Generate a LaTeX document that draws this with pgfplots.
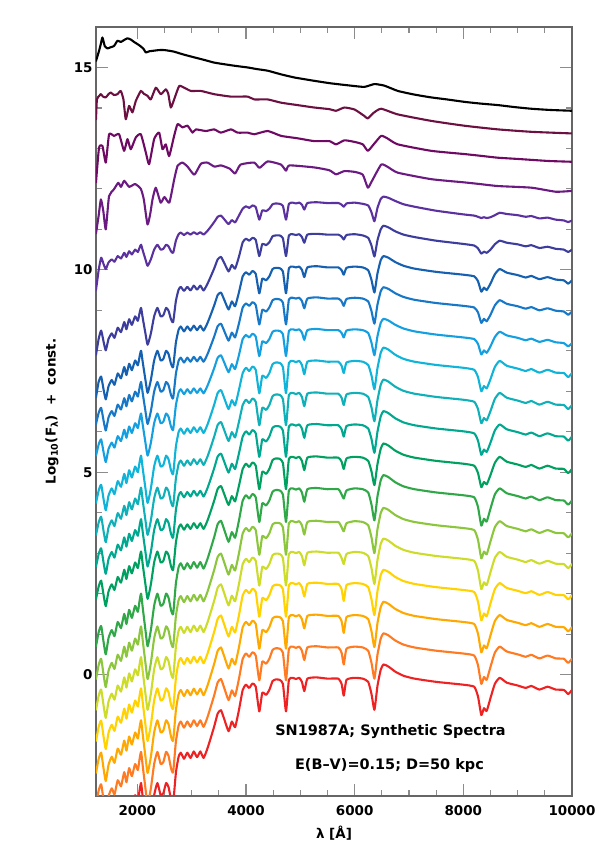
\documentclass[border=0pt]{standalone}
\usepackage{fontspec}
\setmainfont{DejaVu Sans}
\usepackage{pgfplots}
\usepackage{pgfplotstable}
\pgfplotsset{compat=1.18}

\definecolor{s0}{RGB}{0,0,0}
\definecolor{s1}{RGB}{107,16,64}
\definecolor{s2}{RGB}{110,10,100}
\definecolor{s3}{RGB}{106,26,128}
\definecolor{s4}{RGB}{91,49,160}
\definecolor{s5}{RGB}{61,61,158}
\definecolor{s6}{RGB}{21,96,176}
\definecolor{s7}{RGB}{24,120,200}
\definecolor{s8}{RGB}{20,160,224}
\definecolor{s9}{RGB}{16,180,216}
\definecolor{s10}{RGB}{16,176,184}
\definecolor{s11}{RGB}{0,168,144}
\definecolor{s12}{RGB}{0,160,96}
\definecolor{s13}{RGB}{48,168,72}
\definecolor{s14}{RGB}{140,198,60}
\definecolor{s15}{RGB}{204,220,40}
\definecolor{s16}{RGB}{255,210,0}
\definecolor{s17}{RGB}{255,168,0}
\definecolor{s18}{RGB}{255,122,32}
\definecolor{s19}{RGB}{238,34,34}

\pgfplotstableread{
x c4 c5 c6 c7 c8 c9 c10 c11 c12 c13 c14 c15 c16 c17 c18 c19
1240 9.50 7.90 6.85 6.19 5.41 4.24 3.45 2.67 1.87 0.70 -0.11 -0.87 -1.64 -2.43 -3.21 -3.98
1290 10.00 8.30 7.24 6.47 5.69 4.55 3.76 2.98 2.18 1.05 0.24 -0.52 -1.29 -2.08 -2.86 -3.63
1335 10.30 8.50 7.36 6.59 5.81 4.69 3.90 3.12 2.32 1.20 0.39 -0.37 -1.14 -1.93 -2.71 -3.48
1380 10.14 8.22 7.04 6.27 5.49 4.33 3.54 2.76 1.96 0.80 -0.01 -0.77 -1.54 -2.33 -3.11 -3.88
1420 10.02 8.01 6.80 6.03 5.25 4.06 3.27 2.49 1.69 0.50 -0.31 -1.07 -1.84 -2.63 -3.41 -4.18
1470 10.18 8.29 7.12 6.35 5.57 4.42 3.63 2.85 2.05 0.90 0.09 -0.67 -1.44 -2.23 -3.01 -3.78
1530 10.26 8.43 7.28 6.51 5.73 4.60 3.81 3.03 2.23 1.10 0.29 -0.47 -1.24 -2.03 -2.81 -3.58
1580 10.20 8.32 7.16 6.39 5.61 4.46 3.67 2.89 2.09 0.95 0.14 -0.62 -1.39 -2.18 -2.96 -3.73
1640 10.34 8.57 7.44 6.67 5.89 4.78 3.99 3.21 2.41 1.30 0.49 -0.27 -1.04 -1.83 -2.61 -3.38
1700 10.28 8.46 7.32 6.55 5.77 4.64 3.85 3.07 2.27 1.15 0.34 -0.42 -1.19 -1.98 -2.76 -3.53
1760 10.42 8.71 7.60 6.83 6.05 4.96 4.17 3.39 2.59 1.50 0.69 -0.07 -0.84 -1.63 -2.41 -3.18
1800 10.32 8.53 7.40 6.63 5.85 4.73 3.94 3.16 2.36 1.25 0.44 -0.32 -1.09 -1.88 -2.66 -3.43
1850 10.46 8.78 7.68 6.91 6.13 5.05 4.26 3.48 2.68 1.60 0.79 0.03 -0.74 -1.53 -2.31 -3.08
1900 10.38 8.64 7.52 6.75 5.97 4.87 4.08 3.30 2.50 1.40 0.59 -0.17 -0.94 -1.73 -2.51 -3.28
1960 10.50 8.85 7.76 6.99 6.21 5.14 4.35 3.57 2.77 1.70 0.89 0.13 -0.64 -1.43 -2.21 -2.98
2010 10.44 8.74 7.64 6.87 6.09 5.00 4.21 3.43 2.63 1.55 0.74 -0.02 -0.79 -1.58 -2.36 -3.13
2045 10.56 8.95 7.88 7.11 6.33 5.27 4.48 3.70 2.90 1.85 1.04 0.28 -0.49 -1.28 -2.06 -2.83
2070 10.62 9.06 8.00 7.23 6.45 5.41 4.62 3.84 3.04 2.00 1.19 0.43 -0.34 -1.13 -1.91 -2.68
2100 10.48 8.81 7.72 6.95 6.17 5.09 4.30 3.52 2.72 1.65 0.84 0.08 -0.69 -1.48 -2.26 -3.03
2150 10.26 8.43 7.28 6.51 5.73 4.60 3.81 3.03 2.23 1.10 0.29 -0.47 -1.24 -2.03 -2.81 -3.58
2190 10.10 8.15 6.96 6.19 5.41 4.24 3.45 2.67 1.87 0.70 -0.11 -0.87 -1.64 -2.43 -3.21 -3.98
2250 10.26 8.43 7.28 6.51 5.73 4.60 3.81 3.03 2.23 1.10 0.29 -0.47 -1.24 -2.03 -2.81 -3.58
2310 10.50 8.85 7.76 6.99 6.21 5.14 4.35 3.57 2.77 1.70 0.89 0.13 -0.64 -1.43 -2.21 -2.98
2370 10.62 9.06 8.00 7.23 6.45 5.41 4.62 3.84 3.04 2.00 1.19 0.43 -0.34 -1.13 -1.91 -2.68
2430 10.50 8.85 7.76 6.99 6.21 5.14 4.35 3.57 2.77 1.70 0.89 0.13 -0.64 -1.43 -2.21 -2.98
2480 10.52 8.88 7.80 7.03 6.25 5.18 4.39 3.61 2.81 1.75 0.94 0.18 -0.59 -1.38 -2.16 -2.93
2530 10.62 9.06 8.00 7.23 6.45 5.41 4.62 3.84 3.04 2.00 1.19 0.43 -0.34 -1.13 -1.91 -2.68
2575 10.58 8.99 7.92 7.15 6.37 5.32 4.53 3.75 2.95 1.90 1.09 0.33 -0.44 -1.23 -2.01 -2.78
2620 10.46 8.78 7.68 6.91 6.13 5.05 4.26 3.48 2.68 1.60 0.79 0.03 -0.74 -1.53 -2.31 -3.08
2660 10.42 8.71 7.60 6.83 6.05 4.96 4.17 3.39 2.59 1.50 0.69 -0.07 -0.84 -1.63 -2.41 -3.18
2710 10.72 9.23 8.20 7.43 6.65 5.63 4.84 4.06 3.26 2.25 1.44 0.68 -0.09 -0.88 -1.66 -2.43
2760 10.88 9.51 8.52 7.75 6.97 5.99 5.20 4.42 3.62 2.65 1.84 1.08 0.31 -0.48 -1.26 -2.03
2800 10.92 9.58 8.60 7.83 7.05 6.08 5.29 4.51 3.71 2.75 1.94 1.18 0.41 -0.38 -1.16 -1.93
2860 10.86 9.48 8.48 7.71 6.93 5.95 5.16 4.38 3.58 2.60 1.79 1.03 0.26 -0.53 -1.31 -2.08
2920 10.92 9.58 8.60 7.83 7.05 6.08 5.29 4.51 3.71 2.75 1.94 1.18 0.41 -0.38 -1.16 -1.93
2980 10.87 9.49 8.50 7.73 6.95 5.97 5.18 4.40 3.60 2.62 1.81 1.05 0.28 -0.51 -1.29 -2.06
3040 10.93 9.61 8.62 7.85 7.07 6.11 5.32 4.54 3.74 2.78 1.97 1.21 0.44 -0.35 -1.13 -1.90
3100 10.88 9.51 8.51 7.74 6.96 5.99 5.20 4.42 3.62 2.64 1.83 1.07 0.30 -0.49 -1.27 -2.04
3160 10.93 9.61 8.62 7.85 7.07 6.11 5.32 4.54 3.74 2.78 1.97 1.21 0.44 -0.35 -1.13 -1.90
3220 10.87 9.49 8.50 7.73 6.95 5.97 5.18 4.40 3.60 2.62 1.81 1.05 0.28 -0.51 -1.29 -2.06
3290 10.96 9.65 8.68 7.91 7.13 6.17 5.38 4.60 3.80 2.85 2.04 1.28 0.51 -0.28 -1.06 -1.83
3360 11.08 9.86 8.92 8.15 7.37 6.44 5.65 4.87 4.07 3.15 2.34 1.58 0.81 0.02 -0.76 -1.53
3420 11.19 10.05 9.14 8.37 7.59 6.69 5.90 5.12 4.32 3.42 2.61 1.85 1.08 0.29 -0.49 -1.26
3480 11.31 10.26 9.38 8.61 7.83 6.96 6.17 5.39 4.59 3.72 2.91 2.15 1.38 0.59 -0.19 -0.96
3540 11.34 10.32 9.44 8.67 7.89 7.03 6.24 5.46 4.66 3.80 2.99 2.23 1.46 0.67 -0.11 -0.88
3600 11.25 10.17 9.26 8.49 7.71 6.83 6.04 5.26 4.46 3.58 2.77 2.01 1.24 0.45 -0.33 -1.10
3680 11.13 9.96 9.02 8.25 7.47 6.56 5.77 4.99 4.19 3.28 2.47 1.71 0.94 0.15 -0.63 -1.40
3740 11.23 10.12 9.22 8.45 7.67 6.78 5.99 5.21 4.41 3.52 2.71 1.95 1.18 0.39 -0.39 -1.16
3800 11.17 10.03 9.10 8.33 7.55 6.65 5.86 5.08 4.28 3.38 2.57 1.81 1.04 0.25 -0.53 -1.30
3870 11.34 10.32 9.44 8.67 7.89 7.03 6.24 5.46 4.66 3.80 2.99 2.23 1.46 0.67 -0.11 -0.88
3940 11.51 10.68 9.84 9.07 8.29 7.45 6.66 5.88 5.08 4.30 3.49 2.73 1.96 1.17 0.39 -0.38
4000 11.57 10.77 9.94 9.17 8.39 7.58 6.79 6.01 5.21 4.43 3.62 2.86 2.09 1.30 0.52 -0.25
4060 11.53 10.72 9.88 9.11 8.33 7.50 6.71 5.93 5.13 4.35 3.54 2.78 2.01 1.22 0.44 -0.33
4120 11.59 10.79 9.97 9.20 8.42 7.61 6.82 6.04 5.24 4.46 3.65 2.89 2.12 1.33 0.55 -0.22
4180 11.55 10.74 9.90 9.13 8.35 7.53 6.74 5.96 5.16 4.38 3.57 2.81 2.04 1.25 0.47 -0.30
4245 11.24 10.34 9.42 8.65 7.87 6.95 6.16 5.38 4.58 3.77 2.96 2.20 1.43 0.64 -0.14 -0.91
4300 11.47 10.64 9.78 9.01 8.23 7.38 6.59 5.81 5.01 4.23 3.42 2.66 1.89 1.10 0.32 -0.45
4370 11.45 10.61 9.74 8.97 8.19 7.33 6.54 5.76 4.96 4.18 3.37 2.61 1.84 1.05 0.27 -0.50
4430 11.51 10.68 9.84 9.07 8.29 7.45 6.66 5.88 5.08 4.30 3.49 2.73 1.96 1.17 0.39 -0.38
4490 11.62 10.83 10.02 9.25 8.47 7.67 6.88 6.10 5.30 4.52 3.71 2.95 2.18 1.39 0.61 -0.16
4550 11.64 10.85 10.05 9.28 8.50 7.71 6.92 6.14 5.34 4.56 3.75 2.99 2.22 1.43 0.65 -0.12
4620 11.63 10.85 10.04 9.27 8.49 7.70 6.91 6.13 5.33 4.55 3.74 2.98 2.21 1.42 0.64 -0.13
4680 11.58 10.78 9.96 9.19 8.41 7.60 6.81 6.03 5.23 4.45 3.64 2.88 2.11 1.32 0.54 -0.23
4737 11.24 10.34 9.42 8.65 7.87 6.95 6.16 5.38 4.58 3.77 2.96 2.20 1.43 0.64 -0.14 -0.91
4790 11.63 10.85 10.04 9.27 8.49 7.70 6.91 6.13 5.33 4.55 3.74 2.98 2.21 1.42 0.64 -0.13
4860 11.66 10.88 10.08 9.31 8.53 7.75 6.96 6.18 5.38 4.60 3.79 3.03 2.26 1.47 0.69 -0.08
4920 11.64 10.86 10.06 9.29 8.51 7.72 6.93 6.15 5.35 4.57 3.76 3.00 2.23 1.44 0.66 -0.11
4980 11.66 10.88 10.08 9.31 8.53 7.75 6.96 6.18 5.38 4.60 3.79 3.03 2.26 1.47 0.69 -0.08
5030 11.61 10.81 10.00 9.23 8.45 7.65 6.86 6.08 5.28 4.50 3.69 2.93 2.16 1.37 0.59 -0.18
5074 11.49 10.67 9.82 9.05 8.27 7.42 6.63 5.85 5.05 4.27 3.46 2.70 1.93 1.14 0.36 -0.41
5130 11.65 10.87 10.06 9.29 8.51 7.73 6.94 6.16 5.36 4.58 3.77 3.01 2.24 1.45 0.67 -0.10
5300 11.67 10.89 10.09 9.32 8.54 7.76 6.97 6.19 5.39 4.61 3.80 3.04 2.27 1.48 0.70 -0.07
5500 11.65 10.87 10.06 9.29 8.51 7.73 6.94 6.16 5.36 4.58 3.77 3.01 2.24 1.45 0.67 -0.10
5700 11.65 10.87 10.06 9.29 8.51 7.73 6.94 6.16 5.36 4.58 3.77 3.01 2.24 1.45 0.67 -0.10
5760 11.61 10.82 9.99 9.22 8.44 7.63 6.84 6.06 5.26 4.45 3.64 2.88 2.11 1.32 0.54 -0.23
5800 11.56 10.75 9.88 9.11 8.33 7.45 6.66 5.88 5.08 4.35 3.54 2.73 1.82 1.03 0.25 -0.52
5850 11.64 10.86 10.05 9.28 8.50 7.71 6.92 6.14 5.34 4.55 3.74 2.98 2.21 1.42 0.64 -0.13
6000 11.66 10.88 10.08 9.31 8.53 7.75 6.96 6.18 5.38 4.60 3.79 3.03 2.26 1.47 0.69 -0.08
6150 11.63 10.85 10.06 9.29 8.51 7.73 6.94 6.16 5.36 4.58 3.77 3.01 2.24 1.45 0.67 -0.10
6250 11.59 10.79 9.99 9.22 8.44 7.65 6.86 6.08 5.28 4.50 3.69 2.93 2.16 1.37 0.59 -0.18
6310 11.42 10.60 9.75 8.98 8.20 7.39 6.60 5.82 5.02 4.20 3.39 2.63 1.86 1.07 0.29 -0.48
6364 11.20 10.33 9.44 8.67 7.89 7.05 6.26 5.48 4.68 3.81 3.00 2.24 1.47 0.68 -0.10 -0.87
6420 11.53 10.73 9.91 9.14 8.36 7.57 6.78 6.00 5.20 4.40 3.59 2.83 2.06 1.27 0.49 -0.28
6480 11.75 11.00 10.24 9.47 8.69 7.95 7.16 6.38 5.58 4.80 3.99 3.23 2.46 1.67 0.89 0.12
6530 11.81 11.09 10.34 9.57 8.79 8.08 7.29 6.51 5.71 4.93 4.12 3.36 2.59 1.80 1.02 0.25
6620 11.78 11.05 10.30 9.53 8.75 8.03 7.24 6.46 5.66 4.88 4.07 3.31 2.54 1.75 0.97 0.20
6750 11.70 10.95 10.19 9.42 8.64 7.90 7.11 6.33 5.53 4.75 3.94 3.18 2.41 1.62 0.84 0.07
6900 11.62 10.87 10.10 9.33 8.55 7.80 7.01 6.23 5.43 4.65 3.84 3.08 2.31 1.52 0.74 -0.03
7100 11.56 10.81 10.03 9.26 8.48 7.73 6.94 6.16 5.36 4.58 3.77 3.01 2.24 1.45 0.67 -0.10
7500 11.46 10.72 9.95 9.18 8.40 7.65 6.86 6.08 5.28 4.50 3.69 2.93 2.16 1.37 0.59 -0.18
8000 11.37 10.64 9.88 9.11 8.33 7.58 6.79 6.01 5.21 4.43 3.62 2.86 2.09 1.30 0.52 -0.25
8200 11.34 10.60 9.84 9.07 8.29 7.53 6.74 5.96 5.16 4.38 3.57 2.81 2.04 1.25 0.47 -0.30
8270 11.31 10.53 9.72 8.95 8.17 7.35 6.56 5.78 4.98 4.14 3.33 2.57 1.80 1.01 0.23 -0.54
8331 11.28 10.40 9.46 8.69 7.91 7.00 6.21 5.43 4.63 3.68 2.87 2.11 1.34 0.55 -0.23 -1.00
8380 11.30 10.45 9.56 8.79 8.01 7.13 6.34 5.56 4.76 3.85 3.04 2.28 1.51 0.72 -0.06 -0.83
8430 11.28 10.42 9.50 8.73 7.95 7.07 6.28 5.50 4.70 3.78 2.97 2.21 1.44 0.65 -0.13 -0.90
8500 11.30 10.50 9.66 8.89 8.11 7.30 6.51 5.73 4.93 4.10 3.29 2.53 1.76 0.97 0.19 -0.58
8580 11.35 10.63 9.89 9.12 8.34 7.60 6.81 6.03 5.23 4.45 3.64 2.88 2.11 1.32 0.54 -0.23
8670 11.41 10.72 10.02 9.25 8.47 7.75 6.96 6.18 5.38 4.60 3.79 3.03 2.26 1.47 0.69 -0.08
8800 11.38 10.67 9.93 9.16 8.38 7.63 6.84 6.06 5.26 4.48 3.67 2.91 2.14 1.35 0.57 -0.20
9000 11.35 10.63 9.87 9.10 8.32 7.56 6.77 5.99 5.19 4.41 3.60 2.84 2.07 1.28 0.50 -0.27
9150 11.31 10.58 9.81 9.04 8.26 7.50 6.71 5.93 5.13 4.35 3.54 2.78 2.01 1.22 0.44 -0.33
9250 11.33 10.61 9.85 9.08 8.30 7.55 6.76 5.98 5.18 4.40 3.59 2.83 2.06 1.27 0.49 -0.28
9400 11.27 10.54 9.77 9.00 8.22 7.46 6.67 5.89 5.09 4.31 3.50 2.74 1.97 1.18 0.40 -0.37
9550 11.29 10.57 9.82 9.05 8.27 7.53 6.74 5.96 5.16 4.38 3.57 2.81 2.04 1.25 0.47 -0.30
9700 11.24 10.52 9.76 8.99 8.21 7.46 6.67 5.89 5.09 4.31 3.50 2.74 1.97 1.18 0.40 -0.37
9850 11.22 10.50 9.74 8.97 8.19 7.45 6.66 5.88 5.08 4.30 3.49 2.73 1.96 1.17 0.39 -0.38
9930 11.18 10.44 9.66 8.89 8.11 7.35 6.56 5.78 4.98 4.20 3.39 2.63 1.86 1.07 0.29 -0.48
10000 11.22 10.50 9.74 8.97 8.19 7.45 6.66 5.88 5.08 4.30 3.49 2.73 1.96 1.17 0.39 -0.38
}\spectra

\begin{document}
\begin{tikzpicture}
\path[use as bounding box] (-96bp,-61bp) rectangle (503bp,796bp);
\begin{axis}[
  at={(0,0)}, anchor=south west,
  scale only axis, width=476bp, height=769bp,
  xmin=1240, xmax=10000, ymin=-3, ymax=16,
  xtick={2000,4000,6000,8000,10000},
  scaled x ticks=false,
  minor x tick num=3,
  ytick={0,5,10,15},
  minor y tick num=4,
  tick align=inside,
  xtick pos=both, ytick pos=both,
  major tick length=12bp, minor tick length=6bp,
  tick style={black!45, line width=1.2bp},
  axis line style={black!60, line width=1.2bp},
  /pgf/number format/assume math mode=true,
  /pgf/number format/1000 sep={},
  xticklabel={\pgfmathprintnumber[fixed,precision=0,1000 sep={}]{\tick}},
  tick label style={font=\fontsize{13.5}{16}\selectfont\bfseries},
  xticklabel style={yshift=-6bp},
  label style={font=\fontsize{13.5}{16}\selectfont\bfseries},
  xlabel={λ [Å]},
  ylabel={Log\textsubscript{10}(F\textsubscript{λ})~~+~~const.},
  xlabel style={at={(axis description cs:0.5,-0.0481)}, anchor=center},
  ylabel style={at={(axis description cs:-0.0924,0.5)}, anchor=center},
  every axis plot/.append style={line width=2.1bp, line join=round, line cap=round, mark=none, smooth, tension=0.3},
]
\addplot[s0] coordinates {(1240,15.16) (1296,15.41) (1327,15.57) (1359,15.74) (1401,15.53) (1451,15.47) (1510,15.50) (1572,15.53) (1635,15.66) (1696,15.63) (1760,15.68) (1819,15.72) (1880,15.69) (1941,15.63) (2000,15.58) (2065,15.52) (2120,15.45) (2157,15.37) (2220,15.40) (2280,15.41) (2400,15.43) (2494,15.43) (2600,15.41) (2678,15.39) (2850,15.32) (3047,15.25) (3250,15.18) (3415,15.12) (3600,15.08) (3800,15.04) (4031,15.00) (4200,14.96) (4400,14.92) (4645,14.83) (4900,14.75) (5258,14.67) (5550,14.61) (5935,14.55) (6180,14.52) (6364,14.59) (6549,14.55) (6795,14.42) (7100,14.33) (7409,14.26) (7700,14.21) (8023,14.15) (8300,14.11) (8638,14.07) (8950,14.02) (9252,13.98) (9600,13.95) (10000,13.93)};
\addplot[s1] coordinates {(1240,13.72) (1257,14.21) (1300,14.30) (1327,14.34) (1370,14.28) (1420,14.26) (1470,14.34) (1512,14.38) (1570,14.32) (1635,14.34) (1696,14.42) (1745,14.21) (1788,13.72) (1849,14.05) (1911,13.89) (1972,14.17) (2065,14.42) (2120,14.35) (2188,14.30) (2249,14.21) (2341,14.50) (2433,14.34) (2525,14.46) (2570,14.35) (2617,14.01) (2678,14.21) (2770,14.54) (2863,14.50) (2986,14.42) (3170,14.42) (3415,14.34) (3723,14.28) (4031,14.28) (4153,14.21) (4400,14.21) (4645,14.13) (4950,14.07) (5258,14.01) (5535,13.97) (5658,13.93) (5811,14.01) (6000,13.96) (6180,13.80) (6241,13.74) (6350,13.88) (6488,13.98) (6795,13.84) (7409,13.68) (8023,13.56) (8638,13.47) (9252,13.41) (10000,13.37)};
\addplot[s2] coordinates {(1240,12.16) (1296,13.02) (1359,13.06) (1420,12.65) (1481,13.35) (1572,13.31) (1665,13.35) (1757,12.94) (1819,13.23) (1880,12.98) (1972,13.27) (2065,13.35) (2157,12.90) (2218,12.61) (2310,13.23) (2402,13.39) (2464,12.98) (2525,13.10) (2586,12.81) (2678,13.31) (2741,13.60) (2833,13.52) (2925,13.56) (3017,13.39) (3078,13.47) (3262,13.43) (3415,13.47) (3539,13.39) (3723,13.47) (3846,13.39) (4031,13.39) (4153,13.35) (4400,13.43) (4645,13.31) (4950,13.25) (5258,13.18) (5535,13.18) (5658,13.10) (5811,13.20) (6000,13.16) (6150,13.10) (6243,12.94) (6350,13.10) (6488,13.31) (6600,13.25) (6795,13.10) (7409,12.94) (8023,12.86) (8300,12.82) (8638,12.77) (9000,12.74) (9560,12.69) (10000,12.67)};
\addplot[s3] coordinates {(1240,10.90) (1290,11.35) (1330,11.74) (1375,11.45) (1420,11.00) (1480,11.82) (1570,11.99) (1650,12.15) (1700,12.05) (1760,12.20) (1850,12.05) (1960,12.12) (2065,12.00) (2120,11.74) (2188,11.12) (2240,11.40) (2280,11.74) (2340,12.03) (2430,11.66) (2500,11.80) (2590,11.66) (2680,12.24) (2741,12.57) (2830,12.65) (2925,12.55) (3050,12.35) (3170,12.62) (3290,12.65) (3420,12.55) (3540,12.58) (3700,12.50) (3800,12.38) (3900,12.60) (4150,12.65) (4250,12.52) (4400,12.68) (4645,12.60) (4737,12.45) (4800,12.58) (5258,12.53) (5535,12.46) (5658,12.36) (5811,12.44) (6000,12.42) (6150,12.35) (6243,12.03) (6320,12.20) (6488,12.60) (6600,12.55) (6795,12.40) (7409,12.24) (8023,12.16) (8300,12.12) (8638,12.07) (9252,12.03) (9700,11.93) (10000,11.95)};
\addplot[s4] table[x=x,y=c4] {\spectra};
\addplot[s5] table[x=x,y=c5] {\spectra};
\addplot[s6] table[x=x,y=c6] {\spectra};
\addplot[s7] table[x=x,y=c7] {\spectra};
\addplot[s8] table[x=x,y=c8] {\spectra};
\addplot[s9] table[x=x,y=c9] {\spectra};
\addplot[s10] table[x=x,y=c10] {\spectra};
\addplot[s11] table[x=x,y=c11] {\spectra};
\addplot[s12] table[x=x,y=c12] {\spectra};
\addplot[s13] table[x=x,y=c13] {\spectra};
\addplot[s14] table[x=x,y=c14] {\spectra};
\addplot[s15] table[x=x,y=c15] {\spectra};
\addplot[s16] table[x=x,y=c16] {\spectra};
\addplot[s17] table[x=x,y=c17] {\spectra};
\addplot[s18] table[x=x,y=c18] {\spectra};
\addplot[s19] table[x=x,y=c19] {\spectra};
\node[font=\fontsize{14.5}{17}\selectfont\bfseries] at (axis cs:6660,-1.41) {SN1987A; Synthetic Spectra};
\node[font=\fontsize{14.5}{17}\selectfont\bfseries] at (axis cs:6640,-2.25) {E(B\textendash V)=0.15; D=50 kpc};
\end{axis}
\end{tikzpicture}
\end{document}
